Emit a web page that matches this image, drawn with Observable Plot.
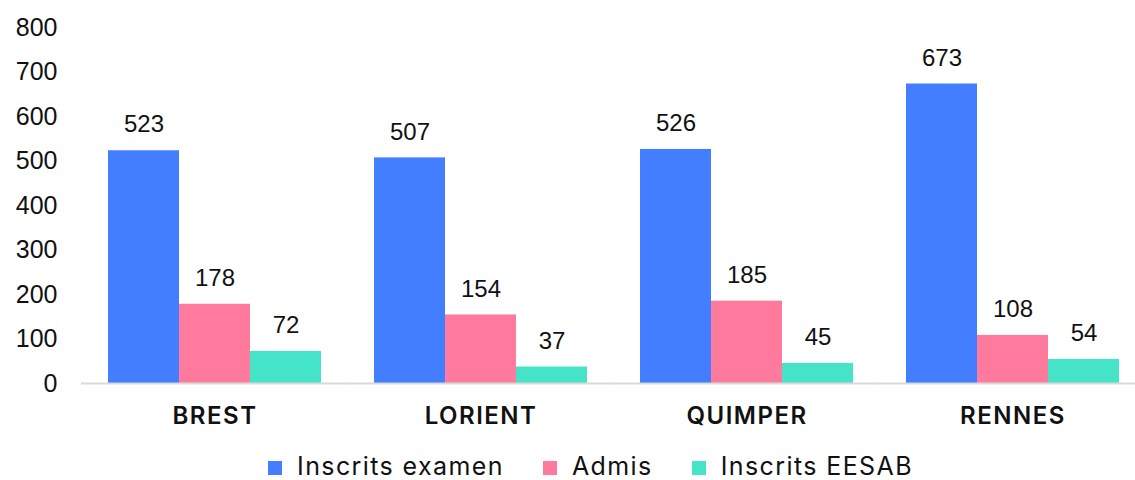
<!DOCTYPE html>
<html>
<head>
<meta charset="utf-8">
<script src="https://cdn.jsdelivr.net/npm/d3@7"></script>
<script src="https://cdn.jsdelivr.net/npm/@observablehq/plot@0.6"></script>
<style>
  html, body { margin: 0; padding: 0; background: #fff; overflow: hidden; }
  #chart svg { display: block; overflow: hidden; }
  #chart g[aria-label="fx-axis tick label"] text { letter-spacing: 1.5px; }
  #legend { position: absolute; left: 0; top: 452px; width: 1135px; height: 28px; line-height: 28px;
            display: flex; align-items: center; justify-content: center; padding-left: 46px; box-sizing: border-box;
            font-family: Inter, "Liberation Sans", sans-serif; font-size: 25px; letter-spacing: 1.4px; color: #111; }
  #legend .item { display: flex; align-items: center; margin: 0 19.5px; }
  #legend .sw { width: 14px; height: 14px; margin-right: 15px; position: relative; top: 2px; }
</style>
</head>
<body>
<div id="chart"></div>
<div id="legend"></div>
<script>
const cities = ["BREST", "LORIENT", "QUIMPER", "RENNES"];
const series = ["Inscrits examen", "Admis", "Inscrits EESAB"];
const inscritsExamen = [523, 507, 526, 673];
const admis = [178, 154, 185, 108];
const inscritsEESAB = [72, 37, 45, 54];
const colors = ["#427eff", "#ff7a9c", "#45e3c8"];
const yTicks = [0, 100, 200, 300, 400, 500, 600, 700, 800];

const valuesBySeries = [inscritsExamen, admis, inscritsEESAB];
const data = [];
cities.forEach((c, i) => series.forEach((s, j) => data.push({city: c, series: s, value: valuesBySeries[j][i]})));

const chart = Plot.plot({
  width: 1135,
  height: 440,
  marginLeft: 79,
  marginRight: 0,
  marginTop: 27,
  marginBottom: 57,
  style: {background: "#fff"},
  fx: {domain: cities, paddingInner: 0.2, paddingOuter: 0.079, align: 0.64, label: null, axis: null},
  x: {domain: series, padding: 0, axis: null},
  y: {domain: [0, 800], axis: null},
  color: {domain: series, range: colors},
  marks: [
    Plot.barY(data, {fx: "city", x: "series", y: "value", fill: "series"}),
    Plot.ruleY([0], {stroke: "#d9d9d9", strokeWidth: 2, insetLeft: -27, insetRight: -27}),
    Plot.text(data, {fx: "city", x: "series", y: "value", text: d => String(d.value), dy: -26,
      lineAnchor: "middle", fontSize: 24, fontFamily: "Liberation Sans, Arial, sans-serif", fill: "#111"}),
    Plot.axisY(yTicks, {tickSize: 0, tickPadding: 51, fontSize: 25, fontFamily: "Liberation Sans, Arial, sans-serif", fill: "#111", tickFormat: d => String(d), label: null}),
    Plot.axisFx({anchor: "bottom", tickSize: 0, tickPadding: 23, fontSize: 24, fontWeight: 600, fontFamily: "Inter, sans-serif", fill: "#111", label: null})
  ]
});
document.getElementById("chart").appendChild(chart);

const legend = d3.select("#legend");
series.forEach((s, i) => {
  const it = legend.append("div").attr("class", "item");
  it.append("div").attr("class", "sw").style("background", colors[i]);
  it.append("span").text(s);
});
</script>
</body>
</html>
